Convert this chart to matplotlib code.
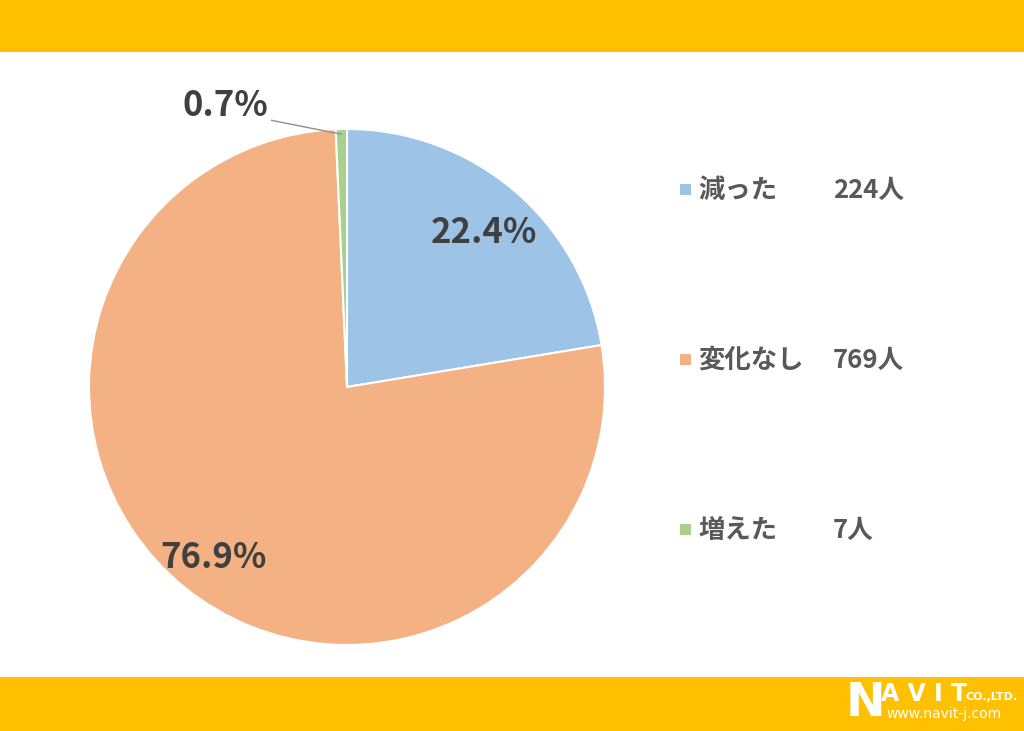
import matplotlib
matplotlib.use('Agg')
import matplotlib.pyplot as plt
from matplotlib.patches import Rectangle
import numpy as np

plt.rcParams['font.family'] = ['Noto Sans CJK JP', 'DejaVu Sans']

# データ
labels = ['減った', '変化なし', '増えた']
counts = [224, 769, 7]
pct_labels = ['22.4%', '76.9%', '0.7%']
colors = ['#9DC3E6', '#F4B183', '#A9D18E']
yellow = '#FFC000'

W, H = 1024, 731
fig = plt.figure(figsize=(W / 100, H / 100), dpi=100)
fig.patch.set_facecolor('white')

# 背景 (ピクセル座標)
bg = fig.add_axes([0, 0, 1, 1], zorder=0)
bg.set_xlim(0, W)
bg.set_ylim(H, 0)
bg.axis('off')
bg.add_patch(Rectangle((0, 0), W, 52, color=yellow, lw=0))
bg.add_patch(Rectangle((0, 677), W, H - 677, color=yellow, lw=0))

# 円グラフ
cx, cy, r = 347, 387, 258
ax = fig.add_axes([(cx - r) / W, (H - cy - r) / H, 2 * r / W, 2 * r / H], zorder=1)
wedges, texts, autotexts = ax.pie(
    counts, colors=colors, startangle=90, counterclock=False,
    autopct='%1.1f%%', pctdistance=0.82,
    wedgeprops=dict(edgecolor='white', linewidth=1.5),
    textprops=dict(fontsize=25, fontweight='bold', color='#404040'))
ax.set_xlim(-1, 1)
ax.set_ylim(-1, 1)
ax.set_aspect('equal')

for t, s in zip(autotexts, pct_labels):
    t.set_text(s)
    x, y = t.get_position()
    t.set_position((x, y - 0.025))  # 見た目の中心を合わせる

# 小さいスライスのラベルは外に出す
autotexts[2].set_visible(False)
w = wedges[2]
ang = np.deg2rad((w.theta1 + w.theta2) / 2)
ax.annotate(pct_labels[2], xy=(0.98 * np.cos(ang), 0.98 * np.sin(ang)),
            xytext=(-0.47, 1.09), ha='center', va='center',
            fontsize=25, fontweight='bold', color='#404040',
            arrowprops=dict(arrowstyle='-', color='#909090', lw=1,
                            shrinkA=0, shrinkB=0,
                            relpos=(1.0, 0.1)),
            annotation_clip=False)

# 凡例
leg_y = [190, 360, 530]
for lab, n, c, y in zip(labels, counts, colors, leg_y):
    bg.add_patch(Rectangle((680, y - 6), 11, 11, color=c, lw=0))
    bg.text(698, y, lab, fontsize=19, fontweight='bold', color='#595959',
            va='center', ha='left')
    bg.text(833, y, f'{n}人', fontsize=18.5, fontweight='bold', color='#595959',
            va='center', ha='left')

# ロゴ
bg.text(846, 704, 'N', fontsize=34, fontweight='heavy', color='white',
        va='center', ha='left', family=['DejaVu Sans'])
bg.text(881, 694, 'A V I T', fontsize=17, fontweight='heavy', color='white',
        va='center', ha='left', family=['DejaVu Sans'])
bg.text(966, 697, 'CO.,LTD.', fontsize=8, fontweight='bold', color='white',
        va='center', ha='left', family=['DejaVu Sans'])
bg.text(886, 714, 'www.navit-j.com', fontsize=10, color='white',
        va='center', ha='left', family=['DejaVu Sans'])

fig.savefig('out.png', dpi=100)
